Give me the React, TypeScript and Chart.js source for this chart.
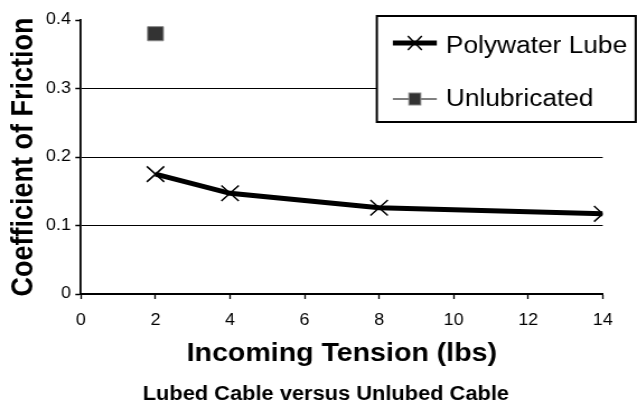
import React, { useEffect, useRef } from "react";
import { Chart, registerables } from "chart.js";

Chart.register(...registerables);

// ---- data ----
const tensionLbs = [2, 4, 8, 14];
const polywaterCof = [0.175, 0.147, 0.126, 0.117];
const unlubTension = [2];
const unlubCof = [0.38];
const seriesNames = ["Polywater Lube", "Unlubricated"];
const xRange = [0, 14];
const yRange = [0, 0.4];
const xStep = 2;
const yStep = 0.1;
const xAxisTitle = "Incoming Tension (lbs)";
const yAxisTitle = "Coefficient of Friction";
const chartTitle = "Lubed Cable versus Unlubed Cable";

// ---- layout (horizontal stretch like the reference) ----
const S = 1.12;
const OUT_W = 637;
const OUT_H = 417;
const W = Math.round(OUT_W / S);
const H = OUT_H;
const FONT = "'Liberation Sans', Arial, sans-serif";

const sx = (v: number) => v / S;

const legendPlugin = {
  id: "boxLegend",
  afterDraw(chart: any) {
    const ctx = chart.ctx;
    ctx.save();
    const bx = sx(377), by = 16, bw = sx(636) - sx(377), bh = 106;
    ctx.fillStyle = "#fff";
    ctx.fillRect(bx, by, bw, bh);
    ctx.strokeStyle = "#000";
    ctx.lineWidth = 2;
    ctx.strokeRect(bx, by, bw, bh);
    const markRows = [43, 99];
    const textRows = [47, 100];
    chart.data.datasets.forEach((ds: any, i: number) => {
      const y = markRows[i];
      ctx.strokeStyle = "#000";
      ctx.lineWidth = i === 0 ? 5 : 1;
      ctx.beginPath();
      ctx.moveTo(sx(393), y);
      ctx.lineTo(sx(437), y);
      ctx.stroke();
      const cx = sx(415);
      if (ds.pointStyle === "crossRot") {
        const r = 7;
        ctx.lineWidth = 1.5;
        ctx.beginPath();
        ctx.moveTo(cx - r / S, y - r);
        ctx.lineTo(cx + r / S, y + r);
        ctx.moveTo(cx + r / S, y - r);
        ctx.lineTo(cx - r / S, y + r);
        ctx.stroke();
      } else {
        const h = 6;
        ctx.fillStyle = ds.pointBackgroundColor;
        ctx.fillRect(cx - h / S, y - h, (2 * h) / S, 2 * h);
        ctx.strokeStyle = ds.pointBorderColor;
        ctx.lineWidth = 1;
        ctx.strokeRect(cx - h / S, y - h, (2 * h) / S, 2 * h);
      }
      ctx.fillStyle = "#000";
      ctx.font = `23.5px ${FONT}`;
      ctx.textAlign = "left";
      ctx.textBaseline = "middle";
      ctx.fillText(ds.label, sx(446), textRows[i]);
    });
    // bottom chart title
    ctx.fillStyle = "#000";
    ctx.font = `bold 19.5px ${FONT}`;
    ctx.textAlign = "center";
    ctx.textBaseline = "middle";
    ctx.fillText(chartTitle, sx(326), 395);
    ctx.restore();
  },
};

export default function App() {
  const ref = useRef<HTMLCanvasElement | null>(null);

  useEffect(() => {
    const canvas = ref.current;
    if (!canvas) return;
    const plotTop = 20;
    const plotBottom = 294;
    const bottomPad = 34;
    const xScaleHeight = H - bottomPad - plotBottom;

    const chart = new Chart(canvas, {
      type: "line",
      data: {
        datasets: [
          {
            label: seriesNames[0],
            data: tensionLbs.map((x, i) => ({ x, y: polywaterCof[i] })),
            borderColor: "#000",
            borderWidth: 5,
            pointStyle: "crossRot",
            pointRadius: 11,
            pointBorderWidth: 1.5,
            pointBorderColor: "#000",
            pointBackgroundColor: "#000",
            tension: 0,
          },
          {
            label: seriesNames[1],
            data: unlubTension.map((x, i) => ({ x, y: unlubCof[i] })),
            showLine: false,
            pointStyle: "rect",
            pointRadius: 10,
            pointBorderWidth: 1,
            pointBackgroundColor: "#333",
            pointBorderColor: "#888",
            borderColor: "#000",
          },
        ],
      },
      options: {
        responsive: false,
        animation: false,
        devicePixelRatio: 1,
        layout: { padding: { left: 0, right: W - 603 / S, top: plotTop, bottom: bottomPad } },
        plugins: {
          legend: { display: false },
          tooltip: { enabled: false },
          title: { display: false },
        },
        scales: {
          x: {
            type: "linear",
            min: xRange[0],
            max: xRange[1],
            afterFit: (s: any) => {
              s.height = xScaleHeight;
            },
            ticks: {
              stepSize: xStep,
              color: "#000",
              font: { family: FONT, size: 16 },
              padding: 12,
              maxRotation: 0,
            },
            grid: {
              drawOnChartArea: false,
              drawTicks: true,
              tickLength: 5,
              tickColor: "#000",
              tickWidth: 1.5 / S,
            },
            border: { display: true, color: "#000", width: 2 },
            title: {
              display: true,
              text: xAxisTitle,
              color: "#000",
              font: { family: FONT, size: 25.5, weight: "bold" },
              padding: { top: 0, bottom: 14 },
            },
          },
          y: {
            type: "linear",
            min: yRange[0],
            max: yRange[1],
            afterFit: (s: any) => {
              s.width = 81 / S;
            },
            ticks: {
              stepSize: yStep,
              color: "#000",
              font: { family: FONT, size: 16 },
              padding: 4,
            },
            grid: {
              color: (c: any) =>
                c.tick && c.tick.value > 0.001 && c.tick.value < yRange[1] - 0.001 ? "#000" : "rgba(0,0,0,0)",
              lineWidth: 1,
              drawTicks: true,
              tickLength: 5,
              tickColor: "#000",
              tickWidth: 1.5,
            },
            border: { display: true, color: "#000", width: 2 / S },
            title: {
              display: true,
              text: yAxisTitle,
              color: "#000",
              font: { family: FONT, size: 27, weight: "bold" },
              padding: { top: 5, bottom: 0 },
            },
          },
        },
      },
      plugins: [legendPlugin],
    } as any);

    return () => chart.destroy();
  }, []);

  return (
    <div style={{ position: "fixed", left: 0, top: 0, width: OUT_W, height: OUT_H, background: "#fff" }}>
      <canvas
        ref={ref}
        width={W}
        height={H}
        style={{ width: `${OUT_W}px`, height: `${OUT_H}px`, display: "block" }}
      />
    </div>
  );
}
